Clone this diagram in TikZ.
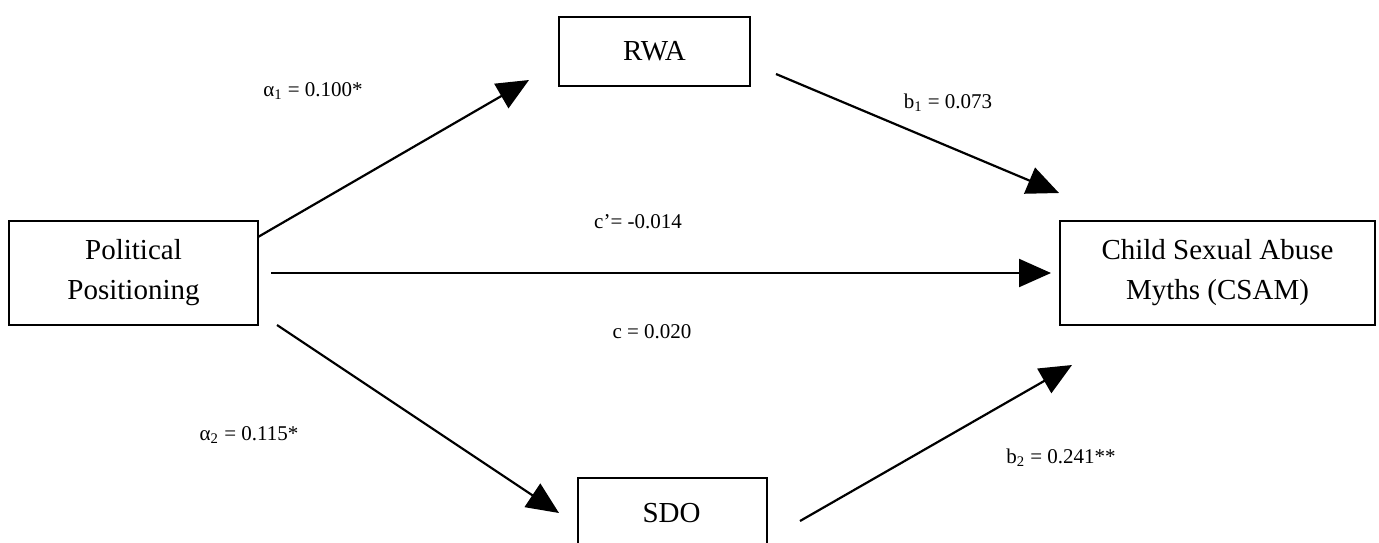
\documentclass[tikz,border=0pt]{standalone}
\usepackage{fontspec}
\setmainfont{Liberation Serif}
\usetikzlibrary{arrows.meta}
\begin{document}
\begin{tikzpicture}[x=0.5pt,y=-0.5pt,
  box/.style={draw,line width=1pt,inner sep=0pt,anchor=north west,align=center,font=\fontsize{14.5}{20}\selectfont},
  path/.style={line width=1.1pt,-{Triangle[length=16pt,width=14pt]}},
  lbl/.style={font=\fontsize{10.5}{12}\selectfont,inner sep=0pt}]
\clip (0,0) rectangle (1379,542);
\fill[white] (0,0) rectangle (1379,542);
\node[box,minimum width=124.5pt,minimum height=52pt] (pp) at (8,220) {Political\\Positioning};
\node[box,minimum width=95.5pt,minimum height=34.5pt] (rwa) at (558,16) {RWA};
\node[box,minimum width=157.5pt,minimum height=52pt] (csam) at (1059,220) {Child Sexual Abuse\\Myths (CSAM)};
\node[box,minimum width=94.5pt,minimum height=50pt] (sdo) at (577,477) {};
\node[font=\fontsize{14.5}{20}\selectfont,inner sep=0pt] (sdot) at (671.5,513) {SDO};
\coordinate (a1s) at (258,237);
\coordinate (a1e) at (529,80);
\coordinate (b1s) at (776,74);
\coordinate (b1e) at (1059,193);
\coordinate (cs) at (271,273);
\coordinate (ce) at (1051,273);
\coordinate (a2s) at (277,325);
\coordinate (a2e) at (559,513);
\coordinate (b2s) at (800,521);
\coordinate (b2e) at (1072,365);
\draw[path] (a1s) -- (a1e);
\draw[path] (b1s) -- (b1e);
\draw[path] (cs) -- (ce);
\draw[path] (a2s) -- (a2e);
\draw[path] (b2s) -- (b2e);
\node[lbl] (la1) at (313,91) {α\textsubscript{1} = 0.100*};
\node[lbl] (lb1) at (948,103) {b\textsubscript{1} = 0.073};
\node[lbl] (lcp) at (638,222) {c’= -0.014};
\node[lbl] (lc) at (652,332) {c = 0.020};
\node[lbl] (la2) at (249,435) {α\textsubscript{2} = 0.115*};
\node[lbl] (lb2) at (1061,458) {b\textsubscript{2} = 0.241**};
\end{tikzpicture}
\end{document}
